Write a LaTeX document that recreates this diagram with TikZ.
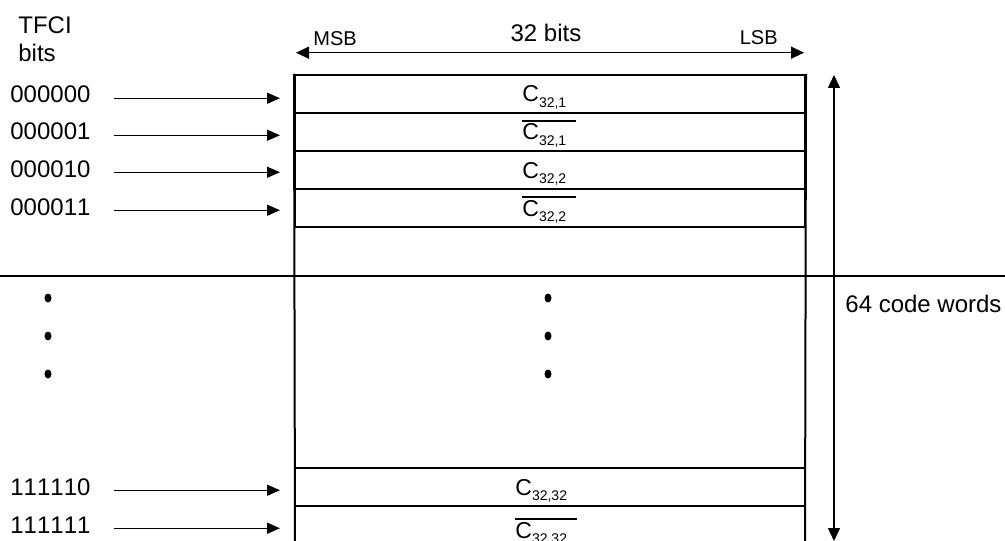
\documentclass[tikz,border=0pt]{standalone}
\usepackage{fontspec}
\setmainfont[Kerning=Off]{Liberation Sans}
\usetikzlibrary{arrows.meta,calc,shapes.geometric}
\newsavebox\cwbox
\newcommand\cwsub[1]{\raisebox{-2.5pt}{\fontsize{7}{8}\selectfont #1}}
\newcommand\cw[1]{C\cwsub{#1}}
\newcommand\cwbar[1]{\sbox\cwbox{C\cwsub{#1}\kern5pt}\vbox{\hrule height 0.75pt\kern1.2pt\box\cwbox}}
\begin{document}
\begin{tikzpicture}[x=0.5pt,y=-0.5pt,
  txt/.style={inner sep=0pt,font=\fontsize{12}{14}\selectfont},
  small/.style={inner sep=0pt,font=\fontsize{10}{12}\selectfont},
  cwtxt/.style={inner sep=0pt,font=\fontsize{11.5}{13}\selectfont,anchor=base west},
  rowbox/.style={draw,line width=1pt,minimum width=255pt,minimum height=19pt,inner sep=0pt},
  boxline/.style={line width=1pt},
  arr/.style={line width=0.7pt,-{Triangle[length=6.5pt,width=5.5pt]},shorten <=11.5pt,shorten >=7pt},
  dbl/.style={line width=0.7pt,{Triangle[length=6.5pt,width=6pt]}-{Triangle[length=6.5pt,width=6pt]}},
  dot/.style={ellipse,fill,inner sep=0pt,minimum width=3.5pt,minimum height=4.5pt}]
\useasboundingbox (0,0) rectangle (1005,540);
\clip (0,0) rectangle (1005,540);

% rows
\node[rowbox] (r1) at (550,94) {};
\node[rowbox] (r2) at (550,132) {};
\node[rowbox] (r3) at (550,170) {};
\node[rowbox] (r4) at (550,208) {};
\node[rowbox] (r5) at (550,486.5) {};
\node[rowbox] (r6) at (550,524.5) {};
\coordinate (bl) at (295,550);
\coordinate (br) at (805,550);
\draw[boxline] (r1.north west) -- (bl);
\draw[boxline] (r1.north east) -- (br);

% horizontal line
\coordinate (hl) at (0,276);
\coordinate (hr) at (1005,276);
\draw[boxline] (hl) -- (hr);

% code words
\node[cwtxt] (c1) at (522,102) {\cw{32,1}};
\node[cwtxt] (c2) at (522,140) {\cwbar{32,1}};
\node[cwtxt] (c3) at (522,178) {\cw{32,2}};
\node[cwtxt] (c4) at (522,216) {\cwbar{32,2}};
\node[cwtxt] (c5) at (515,495) {\cw{32,32}};
\node[cwtxt] (c6) at (515,538) {\cwbar{32,32}};

% TFCI labels
\node[txt,anchor=base west] (t1) at (18,34) {TFCI};
\node[txt,anchor=base west] (t2) at (18,62) {bits};
\node[txt,anchor=base west] (l1) at (10,103) {000000};
\node[txt,anchor=base west] (l2) at (10,140) {000001};
\node[txt,anchor=base west] (l3) at (10,177) {000010};
\node[txt,anchor=base west] (l4) at (10,215) {000011};
\node[txt,anchor=base west] (l5) at (10,495) {111110};
\node[txt,anchor=base west] (l6) at (10,533) {111111};
\foreach \i in {1,...,6}{
  \draw[arr] ($(l\i.east)+(0,3.5)$) -- ($(l\i.east -| r\i.west)+(0,3.5)$);
}

% top width arrow
\node[txt,anchor=base] (bits32) at (546,42) {32 bits};
\node[small,anchor=base west] (msb) at (313,46) {MSB};
\node[small,anchor=base east] (lsb) at (778,45) {LSB};
\coordinate (wl) at (296,52.7);
\coordinate (wr) at (804,52.7);
\draw[dbl] (wl) -- (wr);

% vertical arrow
\coordinate (vt) at (834,75);
\coordinate (vb) at (834,541);
\draw[dbl] (vt) -- (vb);
\node[txt,anchor=base west] (n64) at (845,312) {64 code words};

% dots
\node[dot] (d1) at (48,298) {};
\node[dot] (d2) at (48,336) {};
\node[dot] (d3) at (48,374) {};
\node[dot] (d4) at (548,298) {};
\node[dot] (d5) at (548,336) {};
\node[dot] (d6) at (548,374) {};
\end{tikzpicture}
\end{document}
